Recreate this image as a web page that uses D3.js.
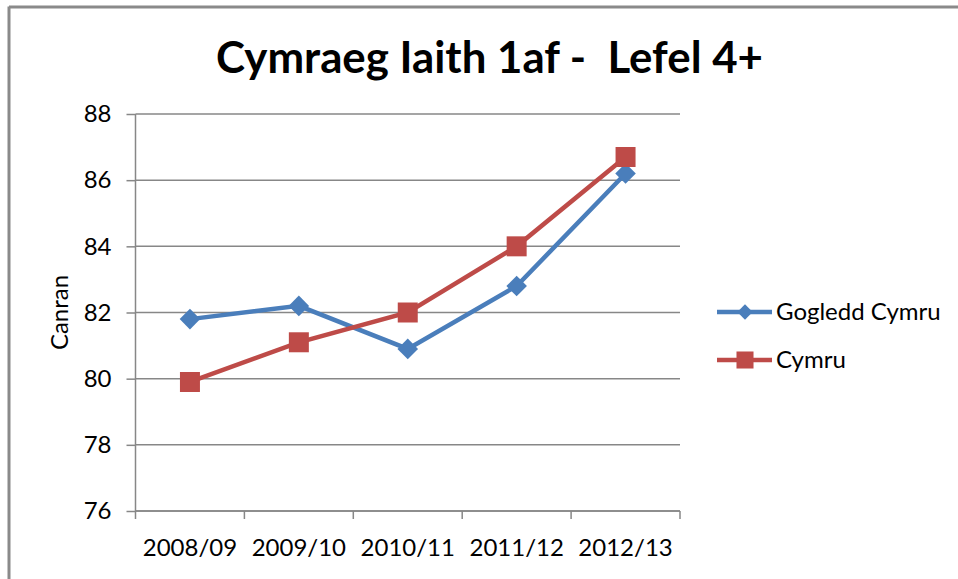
<!DOCTYPE html>
<html>
<head>
<meta charset="utf-8">
<script src="https://cdn.jsdelivr.net/npm/d3@7"></script>
<style>
  body { margin: 0; background: #fff; }
</style>
</head>
<body>
<div id="chart"></div>
<script>
// data
var years = ['2008/09', '2009/10', '2010/11', '2011/12', '2012/13']
var gogleddCymru = [81.8, 82.2, 80.9, 82.8, 86.2]
var cymru = [79.9, 81.1, 82.0, 84.0, 86.7]
var seriesNames = ['Gogledd Cymru', 'Cymru']
var yTicks = [76, 78, 80, 82, 84, 86, 88]

var W = 958, H = 579
var margin = {top: 114, right: 278, bottom: 68, left: 135.5}
var width = W - margin.left - margin.right,
    height = H - margin.top - margin.bottom

var blue = '#4a7ebb', red = '#be4b48', grid = '#878787'
var font = 'Lato, "Open Sans", sans-serif'
var fs = '24px'

var svg = d3.select('#chart').append('svg')
    .attr('width', W)
    .attr('height', H)

// chart frame (only left + top edges visible)
svg.append('line').attr('x1', 9).attr('x2', 9).attr('y1', 6.5).attr('y2', H)
    .style('stroke', '#8a8a8a').style('stroke-width', 3)
svg.append('line').attr('x1', 9).attr('x2', W).attr('y1', 7).attr('y2', 7)
    .style('stroke', '#8a8a8a').style('stroke-width', 3)

// title
svg.append('text')
    .attr('x', 489.5)
    .attr('y', 73)
    .attr('text-anchor', 'middle')
    .attr('textLength', 547)
    .attr('lengthAdjust', 'spacingAndGlyphs')
    .style('white-space', 'pre')
    .style('font-family', font)
    .style('font-weight', 'bold')
    .style('font-size', '43px')
    .style('fill', '#000')
    .text('Cymraeg Iaith 1af -  Lefel 4+')

var g = svg.append('g')
    .attr('transform', 'translate(' + margin.left + ',' + margin.top + ')')

var x = d3.scaleBand().domain(years).range([0, width])
var y = d3.scaleLinear().domain([76, 88]).range([height, 0])
var cx = function (d, i) { return x(years[i]) + x.bandwidth() / 2 }

// gridlines
g.append('g').selectAll('line')
    .data(yTicks)
    .enter().append('line')
    .attr('x1', 0).attr('x2', width)
    .attr('y1', function (d) { return y(d) }).attr('y2', function (d) { return y(d) })
    .style('stroke', grid).style('stroke-width', 1.5)

// y axis
var yAxis = g.append('g')
    .call(d3.axisLeft(y).tickValues(yTicks).tickSize(9).tickPadding(15))
yAxis.select('.domain').remove()
yAxis.selectAll('.tick line').style('stroke', grid).style('stroke-width', 1.5)
yAxis.selectAll('text').style('font-family', font).style('font-size', fs).style('fill', '#000')
g.append('line').attr('x1', 0).attr('x2', 0).attr('y1', 0).attr('y2', height + 8)
    .style('stroke', grid).style('stroke-width', 1.5)

// x axis
var xAxis = g.append('g')
    .attr('transform', 'translate(0,' + height + ')')
    .call(d3.axisBottom(x).tickSize(0).tickPadding(28))
xAxis.select('.domain').remove()
xAxis.selectAll('text').style('font-family', font).style('font-size', fs).style('fill', '#000')
g.append('line').attr('x1', 0).attr('x2', width).attr('y1', height).attr('y2', height)
    .style('stroke', grid).style('stroke-width', 1.5)
g.append('g').selectAll('line')
    .data(years.slice(1).concat(['end']))
    .enter().append('line')
    .attr('x1', function (d) { return d === 'end' ? width : x(d) })
    .attr('x2', function (d) { return d === 'end' ? width : x(d) })
    .attr('y1', height).attr('y2', height + 8)
    .style('stroke', grid).style('stroke-width', 1.5)

// axis title
svg.append('text')
    .attr('transform', 'translate(68,' + (margin.top + height / 2) + ') rotate(-90)')
    .attr('text-anchor', 'middle')
    .style('font-family', font).style('font-size', fs).style('fill', '#000')
    .text('Canran')

var line = d3.line()
    .x(cx)
    .y(function (d) { return y(d) })

var diamond = d3.symbol().type(d3.symbolDiamond2).size(270)
var square = d3.symbol().type(d3.symbolSquare).size(400)

g.append('path').datum(gogleddCymru)
    .attr('d', line)
    .style('fill', 'none').style('stroke', blue).style('stroke-width', 4.5)
g.selectAll('.gdot').data(gogleddCymru).enter().append('path')
    .attr('class', 'gdot')
    .attr('transform', function (d, i) { return 'translate(' + cx(d, i) + ',' + y(d) + ')' })
    .attr('d', diamond)
    .style('fill', blue)

g.append('path').datum(cymru)
    .attr('d', line)
    .style('fill', 'none').style('stroke', red).style('stroke-width', 4.5)
g.selectAll('.cdot').data(cymru).enter().append('path')
    .attr('class', 'cdot')
    .attr('transform', function (d, i) { return 'translate(' + cx(d, i) + ',' + y(d) + ')' })
    .attr('d', square)
    .style('fill', red)

// legend
var legend = svg.append('g').attr('transform', 'translate(717,0)')
var legendRows = [
    {name: seriesNames[0], color: blue, sym: d3.symbol().type(d3.symbolDiamond2).size(150), y: 312},
    {name: seriesNames[1], color: red, sym: d3.symbol().type(d3.symbolSquare).size(290), y: 360}
]
legendRows.forEach(function (r) {
    legend.append('line').attr('x1', 0).attr('x2', 55).attr('y1', r.y).attr('y2', r.y)
        .style('stroke', r.color).style('stroke-width', 4.5)
    legend.append('path').attr('transform', 'translate(28,' + r.y + ')')
        .attr('d', r.sym).style('fill', r.color)
    legend.append('text')
        .attr('x', 59).attr('y', r.y)
        .attr('dy', '0.35em')
        .style('font-family', font).style('font-size', fs).style('fill', '#000')
        .text(r.name)
})
</script>
</body>
</html>
